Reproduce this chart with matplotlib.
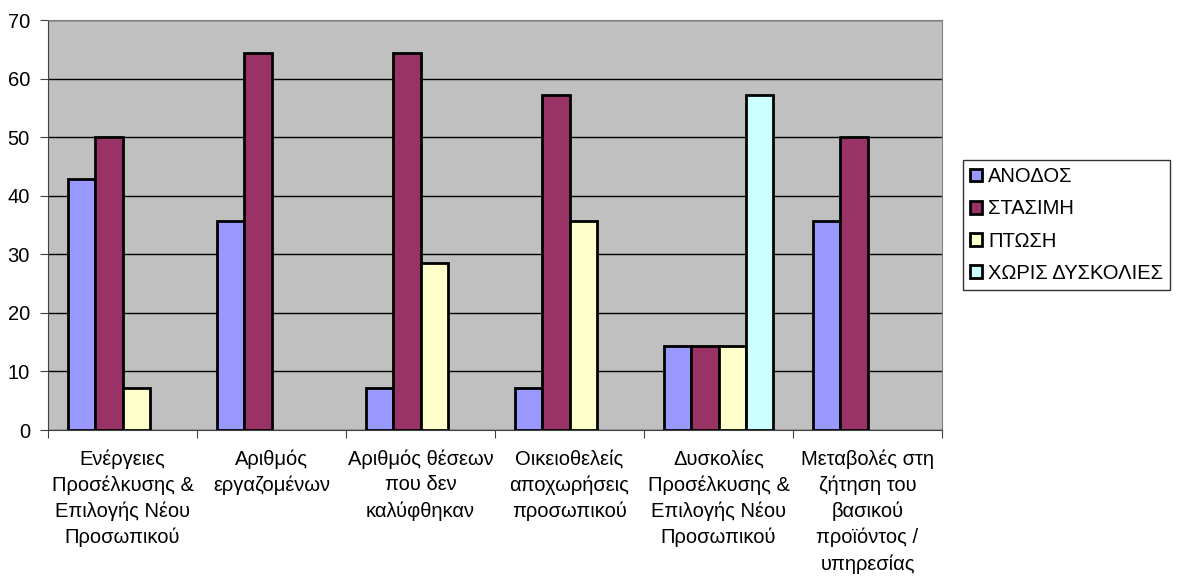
import numpy as np
import matplotlib
matplotlib.use('Agg')
import matplotlib.pyplot as plt

plt.rcParams['font.family'] = ['Liberation Sans', 'DejaVu Sans']

categories = ['Ενέργειες\nΠροσέλκυσης &\nΕπιλογής Νέου\nΠροσωπικού',
              'Αριθμός\nεργαζομένων',
              'Αριθμός θέσεων\nπου δεν\nκαλύφθηκαν',
              'Οικειοθελείς\nαποχωρήσεις\nπροσωπικού',
              'Δυσκολίες\nΠροσέλκυσης &\nΕπιλογής Νέου\nΠροσωπικού',
              'Μεταβολές στη\nζήτηση του\nβασικού\nπροϊόντος /\nυπηρεσίας']
series_names = ['ΑΝΟΔΟΣ', 'ΣΤΑΣΙΜΗ', 'ΠΤΩΣΗ', 'ΧΩΡΙΣ ΔΥΣΚΟΛΙΕΣ']
anodos = [42.86, 35.71, 7.14, 7.14, 14.29, 35.71]
stasimi = [50.0, 64.29, 64.29, 57.14, 14.29, 50.0]
ptosi = [7.14, np.nan, 28.57, 35.71, 14.29, np.nan]
xoris = [np.nan, np.nan, np.nan, np.nan, 57.14, np.nan]
colors = ['#9999FF', '#993366', '#FFFFCC', '#CCFFFF']

fs = 14.5
fig = plt.figure(figsize=(11.8, 5.78), dpi=100)
ax = fig.add_axes([48/1180, 1-430/578, (942-48)/1180, 410/578])
ax.set_facecolor('#C0C0C0')

x = np.arange(len(categories))
w = 1/5.5
for i, vals in enumerate([anodos, stasimi, ptosi, xoris]):
    ax.bar(x + (i-1.5)*w, vals, w, color=colors[i], edgecolor='black',
           linewidth=2, label=series_names[i], zorder=3)

ax.set_xlim(-0.5, 5.5)
ax.set_ylim(0, 70)
ax.set_yticks(range(0, 71, 10))
ax.yaxis.grid(True, color='black', linewidth=1.0, zorder=1)
ax.set_axisbelow(True)
ax.set_xticks(np.arange(-0.5, 6, 1))
ax.set_xticklabels([])
ax.set_xticks(x, minor=True)
ax.set_xticklabels(categories, minor=True, fontsize=fs, linespacing=1.43, va='top')
ax.tick_params(axis='x', which='minor', length=0, pad=14)
ax.tick_params(axis='x', which='major', length=6, direction='out', color='#404040')
ax.tick_params(axis='y', labelsize=fs, length=6, color='#404040', pad=7)
for s in ['top', 'right']:
    ax.spines[s].set_color('#808080')
for s in ['left', 'bottom']:
    ax.spines[s].set_color('#404040')

leg = fig.legend(loc='upper left', bbox_to_anchor=(963/1180, 1-160/578),
                 fontsize=fs, frameon=True, fancybox=False, edgecolor='black',
                 handlelength=0.6, handleheight=0.6, handletextpad=0.3,
                 labelspacing=0.66, borderpad=0.35, borderaxespad=0)
leg.get_frame().set_linewidth(1.0)

fig.savefig('out.png', dpi=100)
